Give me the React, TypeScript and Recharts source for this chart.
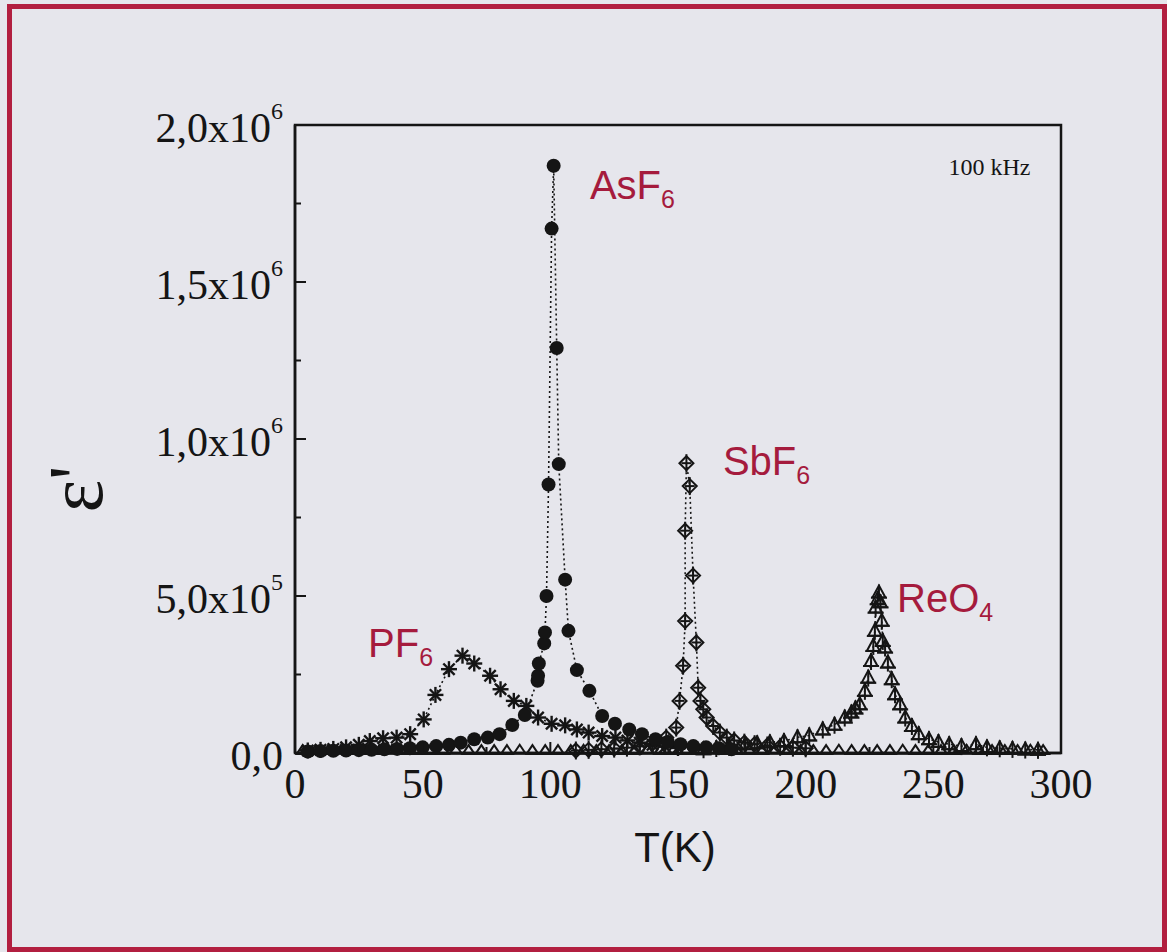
import { ScatterChart, Scatter, XAxis, YAxis, ReferenceArea, ReferenceDot, Label } from "recharts";

type Pt = { t: number; e: number };

const SERIF = '"Liberation Serif", "Times New Roman", serif';
const SANS = '"Liberation Sans", Arial, sans-serif';
const INK = "#151515";
const RED = "#a51b3d";
const BG = "#e6e6ec";

// permittivity in units of 10^6
const xTicks = [0, 25, 50, 75, 100, 125, 150, 175, 200, 225, 250, 275, 300];
const yTicks = [0, 0.25, 0.5, 0.75, 1, 1.25, 1.5, 1.75, 2];
const yLabels: Record<string, [string, string]> = {
  "0": ["0,0", ""],
  "0.5": ["5,0x10", "5"],
  "1": ["1,0x10", "6"],
  "1.5": ["1,5x10", "6"],
  "2": ["2,0x10", "6"],
};

const pf6: Pt[] = [
  { t: 5, e: 0.008 }, { t: 10, e: 0.01 }, { t: 15, e: 0.013 }, { t: 20, e: 0.018 }, { t: 25, e: 0.026 },
  { t: 29.3, e: 0.038 }, { t: 34.5, e: 0.047 }, { t: 39.8, e: 0.049 }, { t: 45.1, e: 0.06 }, { t: 50.4, e: 0.107 },
  { t: 55, e: 0.185 }, { t: 60.3, e: 0.267 }, { t: 65.6, e: 0.31 }, { t: 70.2, e: 0.285 }, { t: 76.4, e: 0.246 },
  { t: 80.5, e: 0.203 }, { t: 85.7, e: 0.166 }, { t: 90.6, e: 0.15 }, { t: 95.2, e: 0.113 }, { t: 100.5, e: 0.093 },
  { t: 105.8, e: 0.088 }, { t: 110.4, e: 0.075 }, { t: 115, e: 0.065 }, { t: 120.3, e: 0.054 }, { t: 125.5, e: 0.049 },
  { t: 130.2, e: 0.04 }, { t: 135, e: 0.033 }, { t: 140, e: 0.026 }, { t: 145, e: 0.02 }, { t: 150, e: 0.016 },
];

const asf6: Pt[] = [
  { t: 5, e: 0.005 }, { t: 10, e: 0.006 }, { t: 15, e: 0.007 }, { t: 20, e: 0.008 }, { t: 25, e: 0.009 },
  { t: 30, e: 0.01 }, { t: 35, e: 0.012 }, { t: 40, e: 0.013 }, { t: 45, e: 0.015 }, { t: 50, e: 0.018 },
  { t: 55.3, e: 0.022 }, { t: 60.3, e: 0.026 }, { t: 64.9, e: 0.033 }, { t: 70.2, e: 0.044 }, { t: 75.5, e: 0.049 },
  { t: 80.1, e: 0.06 }, { t: 85.1, e: 0.089 }, { t: 90, e: 0.121 }, { t: 95, e: 0.23 }, { t: 95.2, e: 0.246 },
  { t: 95.5, e: 0.285 }, { t: 97.6, e: 0.349 }, { t: 97.9, e: 0.384 }, { t: 98.5, e: 0.5 }, { t: 99.3, e: 0.855 },
  { t: 100.5, e: 1.67 }, { t: 101.3, e: 1.87 }, { t: 102.5, e: 1.29 }, { t: 103.3, e: 0.92 }, { t: 105.8, e: 0.552 },
  { t: 107.1, e: 0.389 }, { t: 110.4, e: 0.264 }, { t: 115.3, e: 0.198 }, { t: 120.3, e: 0.118 }, { t: 125.3, e: 0.093 },
  { t: 130.9, e: 0.075 }, { t: 135.9, e: 0.06 }, { t: 141.2, e: 0.044 }, { t: 146, e: 0.035 }, { t: 151, e: 0.028 },
  { t: 156, e: 0.022 }, { t: 161, e: 0.018 }, { t: 166, e: 0.015 }, { t: 171, e: 0.012 },
];

const sbf6: Pt[] = [
  { t: 110, e: 0.008 }, { t: 115, e: 0.01 }, { t: 120, e: 0.012 }, { t: 125, e: 0.014 }, { t: 130, e: 0.017 },
  { t: 135, e: 0.021 }, { t: 140, e: 0.03 }, { t: 145.4, e: 0.049 }, { t: 149.3, e: 0.081 }, { t: 150.6, e: 0.166 },
  { t: 152, e: 0.278 }, { t: 152.8, e: 0.42 }, { t: 152.8, e: 0.708 }, { t: 153.3, e: 0.923 }, { t: 154.6, e: 0.85 },
  { t: 155.9, e: 0.565 }, { t: 157.2, e: 0.352 }, { t: 157.9, e: 0.208 }, { t: 158.8, e: 0.166 }, { t: 159.9, e: 0.139 },
  { t: 161.2, e: 0.113 }, { t: 163.8, e: 0.086 }, { t: 166.4, e: 0.065 }, { t: 169.1, e: 0.049 }, { t: 172, e: 0.04 },
  { t: 176, e: 0.033 }, { t: 180, e: 0.028 }, { t: 185, e: 0.024 }, { t: 190, e: 0.02 }, { t: 195, e: 0.017 },
  { t: 200, e: 0.015 },
];

const reo4: Pt[] = [
  { t: 160, e: 0.012 }, { t: 165, e: 0.016 }, { t: 170, e: 0.02 }, { t: 176.4, e: 0.028 }, { t: 181, e: 0.031 },
  { t: 186, e: 0.034 }, { t: 191.5, e: 0.038 }, { t: 196.8, e: 0.05 }, { t: 201.4, e: 0.056 }, { t: 206.7, e: 0.075 },
  { t: 211.3, e: 0.09 }, { t: 215.3, e: 0.113 }, { t: 217.9, e: 0.129 }, { t: 219.5, e: 0.142 }, { t: 221.2, e: 0.155 },
  { t: 223.2, e: 0.198 }, { t: 224.5, e: 0.24 }, { t: 225.6, e: 0.293 }, { t: 226.5, e: 0.341 }, { t: 227.1, e: 0.389 },
  { t: 227.4, e: 0.463 }, { t: 228.2, e: 0.49 }, { t: 228.7, e: 0.511 }, { t: 229.3, e: 0.48 }, { t: 229.8, e: 0.421 },
  { t: 230.2, e: 0.357 }, { t: 231.1, e: 0.336 }, { t: 232.2, e: 0.288 }, { t: 233.7, e: 0.235 }, { t: 235, e: 0.187 },
  { t: 237, e: 0.155 }, { t: 239, e: 0.113 }, { t: 241.6, e: 0.086 }, { t: 244.3, e: 0.06 }, { t: 248.3, e: 0.044 },
  { t: 252, e: 0.035 }, { t: 256.2, e: 0.028 }, { t: 261, e: 0.022 }, { t: 266.7, e: 0.028 }, { t: 271, e: 0.018 },
  { t: 276, e: 0.015 }, { t: 281, e: 0.013 }, { t: 286, e: 0.011 }, { t: 291, e: 0.01 },
];

// flat row of small triangles along the bottom of the frame
const baseRow: Pt[] = [
  { t: 3, e: 0.006 }, { t: 8, e: 0.006 }, { t: 13, e: 0.006 }, { t: 18, e: 0.007 }, { t: 23, e: 0.006 },
  { t: 28, e: 0.006 }, { t: 33, e: 0.006 }, { t: 38, e: 0.007 }, { t: 43, e: 0.006 }, { t: 48, e: 0.006 },
  { t: 53, e: 0.006 }, { t: 58, e: 0.006 }, { t: 63, e: 0.007 }, { t: 68, e: 0.006 }, { t: 73, e: 0.006 },
  { t: 78, e: 0.006 }, { t: 83, e: 0.006 }, { t: 88, e: 0.007 }, { t: 93, e: 0.006 }, { t: 98, e: 0.006 },
  { t: 103, e: 0.006 }, { t: 108, e: 0.006 }, { t: 113, e: 0.007 }, { t: 118, e: 0.006 }, { t: 123, e: 0.006 },
  { t: 128, e: 0.006 }, { t: 133, e: 0.006 }, { t: 138, e: 0.007 }, { t: 143, e: 0.006 }, { t: 148, e: 0.006 },
  { t: 153, e: 0.006 }, { t: 158, e: 0.006 }, { t: 163, e: 0.007 }, { t: 168, e: 0.006 }, { t: 173, e: 0.006 },
  { t: 178, e: 0.006 }, { t: 183, e: 0.006 }, { t: 188, e: 0.007 }, { t: 193, e: 0.006 }, { t: 198, e: 0.006 },
  { t: 203, e: 0.006 }, { t: 208, e: 0.006 }, { t: 213, e: 0.007 }, { t: 218, e: 0.006 }, { t: 223, e: 0.006 },
  { t: 228, e: 0.006 }, { t: 233, e: 0.006 }, { t: 238, e: 0.007 }, { t: 243, e: 0.006 }, { t: 248, e: 0.006 },
  { t: 253, e: 0.006 }, { t: 258, e: 0.006 }, { t: 263, e: 0.007 }, { t: 268, e: 0.006 }, { t: 273, e: 0.006 },
  { t: 278, e: 0.006 }, { t: 283, e: 0.006 }, { t: 288, e: 0.007 }, { t: 293, e: 0.006 },
];

// series name labels: anchor (left end of baseline) in data units
const notes = [
  { t: 115.5, e: 1.764, main: "AsF", sub: "6" },
  { t: 28.6, e: 0.306, main: "PF", sub: "6" },
  { t: 167.6, e: 0.885, main: "SbF", sub: "6" },
  { t: 235.8, e: 0.449, main: "ReO", sub: "4" },
];

const DOTTED = { stroke: INK, strokeWidth: 1.6, strokeDasharray: "2 3" };

function FilledDot(p: any) {
  return <circle cx={p.cx} cy={p.cy} r={7} fill={INK} />;
}

function Star(p: any) {
  const { cx, cy } = p;
  const r = 8;
  const d = r * 0.707;
  return (
    <g stroke={INK} strokeWidth={2.4}>
      <line x1={cx - r} y1={cy} x2={cx + r} y2={cy} />
      <line x1={cx} y1={cy - r} x2={cx} y2={cy + r} />
      <line x1={cx - d} y1={cy - d} x2={cx + d} y2={cy + d} />
      <line x1={cx - d} y1={cy + d} x2={cx + d} y2={cy - d} />
    </g>
  );
}

function DiamondCross(p: any) {
  const { cx, cy } = p;
  return (
    <g stroke={INK} strokeWidth={2} fill="none">
      <path d={`M${cx},${cy - 7}L${cx + 7},${cy}L${cx},${cy + 7}L${cx - 7},${cy}Z`} />
      <line x1={cx - 5} y1={cy} x2={cx + 5} y2={cy} />
      <line x1={cx} y1={cy - 9} x2={cx} y2={cy + 9} />
    </g>
  );
}

function TriangleCross(p: any) {
  const { cx, cy } = p;
  return (
    <g stroke={INK} strokeWidth={2} fill="none">
      <path d={`M${cx},${cy - 7}L${cx + 6.5},${cy + 5}L${cx - 6.5},${cy + 5}Z`} />
      <line x1={cx - 8} y1={cy + 5} x2={cx + 8} y2={cy + 5} />
      <line x1={cx} y1={cy - 8} x2={cx} y2={cy + 9} />
    </g>
  );
}

function SmallTri(p: any) {
  const { cx, cy } = p;
  return (
    <path
      d={`M${cx},${cy - 6}L${cx + 6},${cy + 3}L${cx - 6},${cy + 3}Z`}
      fill="none"
      stroke={INK}
      strokeWidth={2}
    />
  );
}

function XTick(p: any) {
  const { x, y, payload } = p;
  const v = payload.value;
  const major = v % 50 === 0;
  return (
    <g>
      <line x1={x} y1={y} x2={x} y2={y - (major ? 11 : 6)} stroke={INK} strokeWidth={2} />
      {major && (
        <text x={x} y={y + 45} textAnchor="middle" fontFamily={SERIF} fontSize={42} fill={INK}>
          {v}
        </text>
      )}
    </g>
  );
}

function YTick(p: any) {
  const { x, y, payload } = p;
  const lab = yLabels[String(payload.value)];
  return (
    <g>
      <line x1={x} y1={y} x2={x + (lab ? 11 : 6)} y2={y} stroke={INK} strokeWidth={2} />
      {lab && (
        <text x={x - 12} y={y + 17} textAnchor="end" fontFamily={SERIF} fontSize={42} fill={INK}>
          {lab[0]}
          {lab[1] && (
            <tspan dy={-23} fontSize={24}>
              {lab[1]}
            </tspan>
          )}
        </text>
      )}
    </g>
  );
}

function NoteText({ cx, cy, main, sub }: any) {
  return (
    <text x={cx} y={cy} fontFamily={SANS} fontSize={40} fill={RED}>
      {main}
      <tspan dy={9} fontSize={25}>
        {sub}
      </tspan>
    </text>
  );
}

export default function App() {
  return (
    <div style={{ position: "fixed", left: 0, top: 0, width: 1167, height: 952, background: BG }}>
      <div
        style={{
          position: "absolute",
          left: 7,
          top: 4,
          width: 1160,
          height: 948,
          border: `5px solid #b21f40`,
          boxSizing: "border-box",
        }}
      />
      <div style={{ position: "absolute", left: 0, top: 0 }}>
        <ScatterChart width={1167} height={952} margin={{ top: 125, right: 106, bottom: 59, left: 0 }}>
          <XAxis
            type="number"
            dataKey="t"
            domain={[0, 300]}
            ticks={xTicks}
            tick={<XTick />}
            tickSize={0}
            tickMargin={0}
            tickLine={false}
            axisLine={{ stroke: INK, strokeWidth: 2.5 }}
            height={140}
            interval={0}
          >
            <Label
              content={(p: any) => (
                <text
                  x={p.viewBox.x + p.viewBox.width / 2 - 3}
                  y={p.viewBox.y + 109}
                  textAnchor="middle"
                  fontFamily={SANS}
                  fontSize={42}
                  fill={INK}
                >
                  T(K)
                </text>
              )}
            />
          </XAxis>
          <YAxis
            type="number"
            dataKey="e"
            domain={[0, 2]}
            ticks={yTicks}
            tick={<YTick />}
            tickSize={0}
            tickMargin={0}
            tickLine={false}
            axisLine={{ stroke: INK, strokeWidth: 2.5 }}
            width={295}
            interval={0}
          >
            <Label
              content={(p: any) => {
                const cx = p.viewBox.x + 102;
                const cy = p.viewBox.y + p.viewBox.height / 2 + 50;
                return (
                  <text
                    x={cx}
                    y={cy}
                    transform={`rotate(-90 ${cx} ${cy})`}
                    textAnchor="middle"
                    fontFamily={SERIF}
                    fontSize={78}
                    fill={INK}
                  >
                    ε'
                  </text>
                );
              }}
            />
          </YAxis>
          <ReferenceArea x1={0} x2={300} y1={0} y2={2} fill="none" stroke={INK} strokeWidth={2.5} />
          <Scatter data={baseRow} shape={SmallTri} isAnimationActive={false} />
          <Scatter data={reo4} shape={TriangleCross} line={DOTTED} lineType="joint" isAnimationActive={false} />
          <Scatter data={sbf6} shape={DiamondCross} line={DOTTED} lineType="joint" isAnimationActive={false} />
          <Scatter data={pf6} shape={Star} line={DOTTED} lineType="joint" isAnimationActive={false} />
          <Scatter data={asf6} shape={FilledDot} line={DOTTED} lineType="joint" isAnimationActive={false} />
          {notes.map((n) => (
            <ReferenceDot
              key={n.main}
              x={n.t}
              y={n.e}
              r={0}
              shape={(p: any) => <NoteText cx={p.cx} cy={p.cy} main={n.main} sub={n.sub} />}
            />
          ))}
          <ReferenceDot
            x={288}
            y={1.84}
            r={0}
            shape={(p: any) => (
              <text x={p.cx} y={p.cy} textAnchor="end" fontFamily={SERIF} fontSize={24} fill={INK}>
                100 kHz
              </text>
            )}
          />
        </ScatterChart>
      </div>
    </div>
  );
}
